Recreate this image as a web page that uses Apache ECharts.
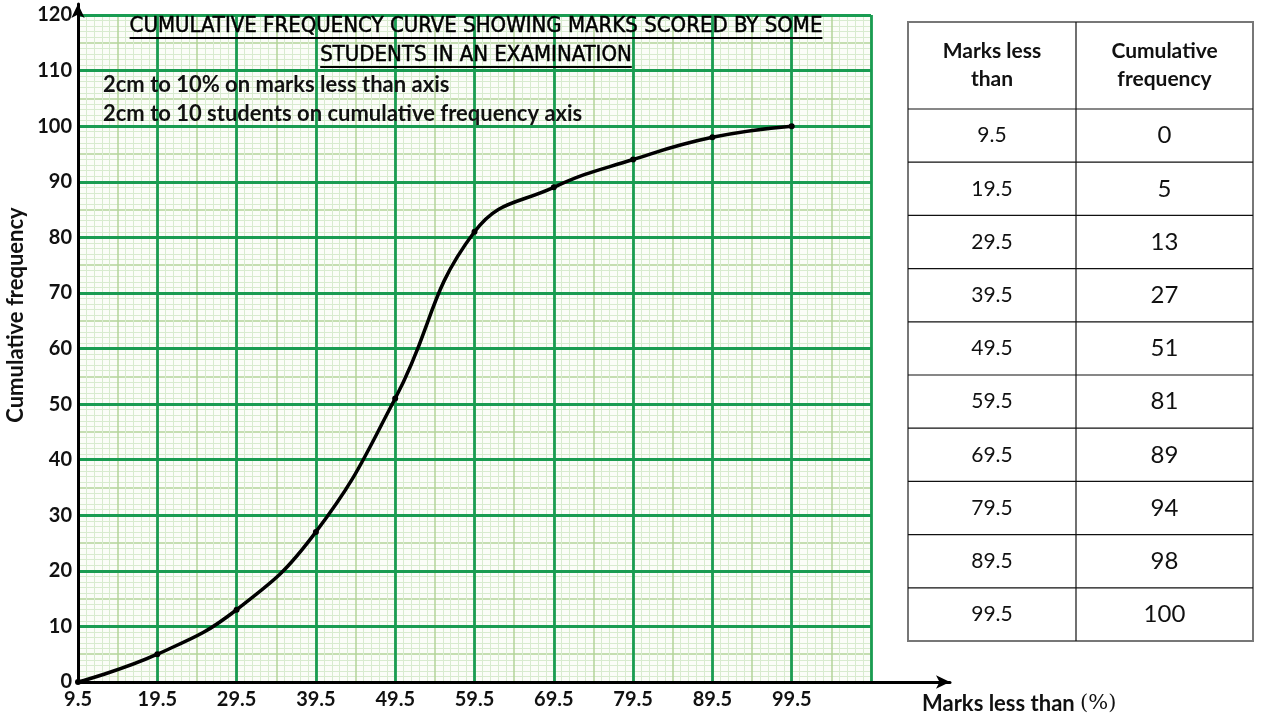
<!DOCTYPE html>
<html>
<head>
<meta charset="utf-8">
<script src="https://cdn.jsdelivr.net/npm/echarts@6/dist/echarts.min.js"></script>
<style>
  html, body { margin: 0; padding: 0; background: #fff; }
  #main { width: 1280px; height: 720px; }
</style>
</head>
<body>
<div id="main"></div>
<script>
// marks (less than) and cumulative frequency
var marks = [9.5, 19.5, 29.5, 39.5, 49.5, 59.5, 69.5, 79.5, 89.5, 99.5];
var cumFreq = [0, 5, 13, 27, 51, 81, 89, 94, 98, 100];
var titleLines = ['CUMULATIVE FREQUENCY CURVE SHOWING MARKS SCORED BY SOME', 'STUDENTS IN AN EXAMINATION'];
var scaleNotes = ['2cm to 10% on marks less than axis', '2cm to 10 students on cumulative frequency axis'];
var tableHead = ['Marks less\nthan', 'Cumulative\nfrequency'];

var titleFont = '22px "DejaVu Sans Condensed"';
var noteFont = 'bold 22px Lato';

function textWidth(text, font) {
    var ctx = document.createElement('canvas').getContext('2d');
    ctx.font = font;
    return ctx.measureText(text).width;
}

var chart = echarts.init(document.getElementById('main'));

var graphics = [];

// title with underline
var titleCx = 476;
var titleY = [26, 55];
titleLines.forEach(function (t, i) {
    var w = textWidth(t, titleFont);
    graphics.push({
        type: 'text', x: titleCx, y: titleY[i], z: 10,
        style: { text: t, font: titleFont, fill: '#000', stroke: '#000', lineWidth: 0.5, align: 'center', verticalAlign: 'middle' }
    });
    graphics.push({
        type: 'line', z: 10,
        shape: { x1: titleCx - w / 2, y1: titleY[i] + 12, x2: titleCx + w / 2, y2: titleY[i] + 12 },
        style: { stroke: '#000', lineWidth: 1.8 }
    });
});
scaleNotes.forEach(function (t, i) {
    graphics.push({
        type: 'text', x: 103, y: 85 + i * 29, z: 10,
        style: { text: t, font: noteFont, fill: '#111', align: 'left', verticalAlign: 'middle' }
    });
});

// axis names
graphics.push({
    type: 'text', x: 16, y: 315, rotation: Math.PI / 2, z: 10,
    style: { text: 'Cumulative frequency', font: 'bold 22px Lato', fill: '#111', align: 'center', verticalAlign: 'middle' }
});
graphics.push({
    type: 'text', x: 922, y: 704, z: 10,
    style: {
        text: '{a|Marks less than }{b|(%)}',
        align: 'left', verticalAlign: 'middle',
        rich: {
            a: { font: 'bold 22px Lato', fill: '#111', color: '#111' },
            b: { font: '21px "DejaVu Serif"', fill: '#111', color: '#111' }
        }
    }
});

// table
var tx = [908, 1076, 1253];
var headTop = 22, headH = 87, rowH = 53.2;
var tBottom = headTop + headH + rowH * marks.length;
graphics.push({
    type: 'rect', z: 1,
    shape: { x: tx[0], y: headTop, width: tx[2] - tx[0], height: tBottom - headTop },
    style: { fill: '#fff', stroke: '#777', lineWidth: 2 }
});
graphics.push({
    type: 'line', z: 2,
    shape: { x1: tx[1], y1: headTop, x2: tx[1], y2: tBottom },
    style: { stroke: '#111', lineWidth: 1.2 }
});
for (var r = 0; r < marks.length; r++) {
    var ly = headTop + headH + rowH * r;
    graphics.push({
        type: 'line', z: 2,
        shape: { x1: tx[0], y1: ly, x2: tx[2], y2: ly },
        style: { stroke: '#111', lineWidth: 1.2 }
    });
    var cy = ly + rowH / 2;
    graphics.push({
        type: 'text', x: (tx[0] + tx[1]) / 2, y: cy, z: 3,
        style: { text: String(marks[r]), font: '21px Lato', fill: '#111', align: 'center', verticalAlign: 'middle' }
    });
    graphics.push({
        type: 'text', x: (tx[1] + tx[2]) / 2, y: cy, z: 3,
        style: { text: String(cumFreq[r]), font: '24px Lato', fill: '#111', align: 'center', verticalAlign: 'middle' }
    });
}
tableHead.forEach(function (t, i) {
    graphics.push({
        type: 'text', x: (tx[i] + tx[i + 1]) / 2, y: headTop + headH / 2, z: 3,
        style: { text: t, font: 'bold 21px Lato', fill: '#111', align: 'center', verticalAlign: 'middle', lineHeight: 28 }
    });
});

var majorColor = '#1a9c52';
var midColor = '#b3d39a';
var minorColor = '#d8ebcf';

var labelStyle = { fontFamily: 'Lato', fontWeight: 'bold', fontSize: 20, color: '#111' };

chart.setOption({
    animation: false,
    grid: [
        { left: 78, top: 15, width: 793, height: 667, show: true, backgroundColor: '#fbfdf8', borderWidth: 0 },
        { left: 78, top: 4, right: 330, bottom: 38 }
    ],
    xAxis: [
        {
            gridIndex: 0, type: 'value', min: 9.5, max: 109.5, interval: 10, z: 1,
            axisLine: { show: false }, axisTick: { show: false },
            axisLabel: Object.assign({ margin: 8, formatter: function (v) { return v > 100 ? '' : v.toFixed(1); } }, labelStyle),
            splitLine: { show: true, lineStyle: { color: majorColor, width: 2.8 } }
        },
        {
            gridIndex: 0, type: 'value', min: 9.5, max: 109.5, interval: 5, z: 0, position: 'bottom',
            axisLine: { show: false }, axisTick: { show: false }, axisLabel: { show: false },
            splitLine: { show: true, lineStyle: { color: midColor, width: 1.5 } },
            minorTick: { show: false, splitNumber: 5 },
            minorSplitLine: { show: true, lineStyle: { color: minorColor, width: 1 } }
        },
        {
            gridIndex: 1, type: 'value', min: 0, max: 1, z: 3,
            axisLine: { show: true, symbol: ['none', 'arrow'], symbolSize: [10, 14], lineStyle: { color: '#000', width: 3 } },
            axisTick: { show: false }, axisLabel: { show: false }, splitLine: { show: false }
        }
    ],
    yAxis: [
        {
            gridIndex: 0, type: 'value', min: 0, max: 120, interval: 10, z: 1,
            axisLine: { show: false }, axisTick: { show: false },
            axisLabel: Object.assign({ margin: 6 }, labelStyle),
            splitLine: { show: true, lineStyle: { color: majorColor, width: 2.8 } }
        },
        {
            gridIndex: 0, type: 'value', min: 0, max: 120, interval: 5, z: 0, position: 'left',
            axisLine: { show: false }, axisTick: { show: false }, axisLabel: { show: false },
            splitLine: { show: true, lineStyle: { color: midColor, width: 1.5 } },
            minorTick: { show: false, splitNumber: 5 },
            minorSplitLine: { show: true, lineStyle: { color: minorColor, width: 1 } }
        },
        {
            gridIndex: 1, type: 'value', min: 0, max: 1, z: 3,
            axisLine: { show: true, symbol: ['none', 'arrow'], symbolSize: [10, 14], lineStyle: { color: '#000', width: 3 } },
            axisTick: { show: false }, axisLabel: { show: false }, splitLine: { show: false }
        }
    ],
    series: [{
        type: 'line',
        xAxisIndex: 0, yAxisIndex: 0,
        data: marks.map(function (m, i) { return [m, cumFreq[i]]; }),
        smooth: 0.45,
        symbol: 'circle', symbolSize: 6,
        itemStyle: { color: '#000' },
        lineStyle: { color: '#000', width: 3.5 },
        z: 5
    }],
    graphic: graphics
});
</script>
</body>
</html>
